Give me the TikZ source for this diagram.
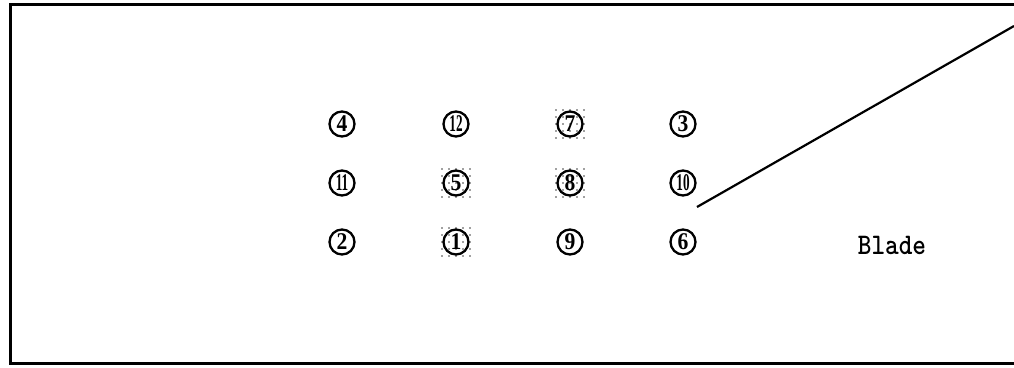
\documentclass[tikz,border=0pt]{standalone}
\usepackage{graphicx}
\usepackage{fontspec}
\newfontfamily\numfont{Liberation Serif}
\tikzset{
  num/.style={circle, draw, line width=2.3pt, minimum size=25pt, inner sep=0pt,
    font=\fontsize{24}{24}\numfont\bfseries},
  frameline/.style={line width=3pt},
  bladeline/.style={line width=2.2pt},
  dotmark/.style={fill=black!75},
}
\newcommand{\one}[1]{\scalebox{0.9}[1]{#1}}
\newcommand{\two}[1]{\scalebox{0.55}[1]{#1}}
\newcommand{\dotsq}[2]{%
  \foreach \i in {0,...,4} \foreach \j in {0,...,4}
    \fill[dotmark] (#1-14+\i*7,#2-14+\j*7) circle (0.9);}
\begin{document}
\begin{tikzpicture}[x=1pt,y=-1pt]
\useasboundingbox (0,0) rectangle (1014,367);
\draw[frameline] (1014,4) -- (10,4) -- (10,363) -- (1014,363);
% dotted backgrounds
\dotsq{570}{124}
\dotsq{456}{183}
\dotsq{570}{183}
\dotsq{456}{242}
% row 1
\node[num] (n4) at (342,124) {\one{4}};
\node[num] (n12) at (456,124) {\two{12}};
\node[num] (n7) at (570,124) {\one{7}};
\node[num] (n3) at (683,124) {\one{3}};
% row 2
\node[num] (n11) at (342,183) {\two{11}};
\node[num] (n5) at (456,183) {\one{5}};
\node[num] (n8) at (570,183) {\one{8}};
\node[num] (n10) at (683,183) {\two{10}};
% row 3
\node[num] (n2) at (342,242) {\one{2}};
\node[num] (n1) at (456,242) {\one{1}};
\node[num] (n9) at (570,242) {\one{9}};
\node[num] (n6) at (683,242) {\one{6}};
\node (blade) at (892,245) {\fontsize{26}{26}\ttfamily\bfseries\scalebox{1}[1.15]{Blade}};
\coordinate (la) at (697,207);
\coordinate (lb) at (1014,26);
\draw[bladeline] (la) -- (lb);
\end{tikzpicture}
\end{document}
